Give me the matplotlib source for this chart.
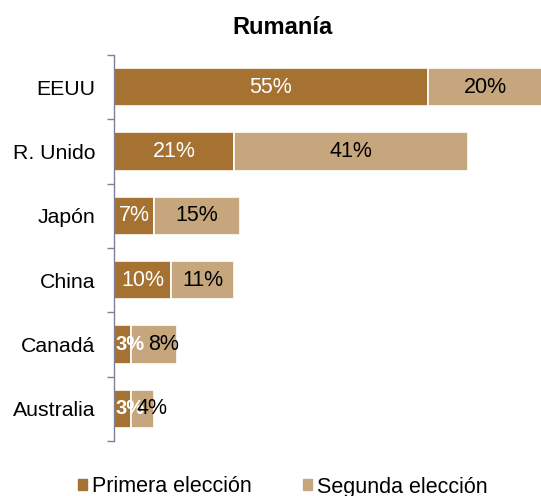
import matplotlib
matplotlib.use("Agg")
import matplotlib.pyplot as plt
from matplotlib.patches import Rectangle

plt.rcParams['font.family'] = ['Liberation Sans', 'DejaVu Sans']

categories = ["EEUU", "R. Unido", "Japón", "China", "Canadá", "Australia"]
primera = [55, 21, 7, 10, 3, 3]
segunda = [20, 41, 15, 11, 8, 4]
series_names = ["Primera elección", "Segunda elección"]
title = "Rumanía"

c1 = "#A57232"
c2 = "#C6A67D"

fig = plt.figure(figsize=(5.41, 4.96), dpi=100)
ax = fig.add_axes([114/541, 1-441/496, 1-114/541, 386/496])

n = len(categories)
ys = list(range(n))
ax.barh(ys, primera, height=0.6, color=c1, edgecolor="white", linewidth=1.2)
ax.barh(ys, segunda, left=primera, height=0.6, color=c2, edgecolor="white", linewidth=1.2)

for y, a, b in zip(ys, primera, segunda):
    if a < 5:
        ax.annotate(f"{a}%", (0, y), xytext=(1, 0), textcoords="offset points",
                    ha="left", va="center", color="white", fontsize=14.5, fontweight="bold")
        ax.annotate(f"{b}%", (a + b/2, y), xytext=(7, 0), textcoords="offset points",
                    ha="center", va="center", color="black", fontsize=15.5)
    else:
        ax.text(a/2, y, f"{a}%", ha="center", va="center", color="white", fontsize=15.5)
        ax.text(a + b/2, y, f"{b}%", ha="center", va="center", color="black", fontsize=15.5)

ax.set_xlim(0, 74.8)
ax.set_ylim(n-0.5, -0.5)
ax.set_yticks(ys)
ax.set_yticklabels(categories, fontsize=15.3)
ax.set_yticks([i - 0.5 for i in range(n+1)], minor=True)
ax.tick_params(axis='y', which='major', length=0, pad=13.5)
ax.tick_params(axis='y', which='minor', length=5, color="#7F7F9A", width=1)
ax.set_xticks([])
for s in ["top", "right", "bottom"]:
    ax.spines[s].set_visible(False)
ax.spines["left"].set_color("#7F7F9A")
ax.spines["left"].set_linewidth(1)

fig.text(283/541, 1-28/496, title, ha="center", va="center", fontsize=17, fontweight="bold")

# legend
handles = [Rectangle((0, 0), 1, 1, color=c1), Rectangle((0, 0), 1, 1, color=c2)]
fig.legend(handles, series_names, loc="center", bbox_to_anchor=(283/541, 1-487/496),
           ncol=2, frameon=False, fontsize=15.5, handlelength=0.4, handleheight=0.4,
           handletextpad=0.25, columnspacing=2.4)

fig.savefig("out.png", dpi=100)
